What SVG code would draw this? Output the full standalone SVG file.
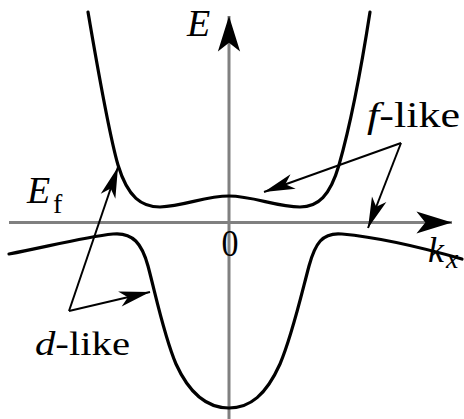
<svg xmlns="http://www.w3.org/2000/svg" width="464" height="419" viewBox="0 0 464 419">
<style>
.axis{stroke:#808080;stroke-width:3;fill:none}
.band{stroke:#000;stroke-width:3.2;fill:none;stroke-linecap:round}
.ptr{stroke:#000;stroke-width:2;fill:none}
.lbl{font-family:"Liberation Serif","Times New Roman",serif;fill:#000}
.it{font-style:italic}
</style>
<defs>
<marker id="axhead" markerUnits="userSpaceOnUse" markerWidth="40" markerHeight="30" refX="0" refY="0" viewBox="-34 -12 36 24" orient="auto">
<path d="M0,0 L-32,-10 L-24,0 L-32,10 Z" fill="#000"/>
</marker>
<marker id="ptrhead" markerUnits="userSpaceOnUse" markerWidth="34" markerHeight="20" refX="0" refY="0" viewBox="-32 -9 33 18" orient="auto">
<path d="M0,0 L-30,-7.5 L-22,0 L-30,7.5 Z" fill="#000"/>
</marker>
</defs>
<g id="axes">
<line class="axis" x1="9" y1="222.5" x2="452" y2="222.5" marker-end="url(#axhead)"/>
<line class="axis" x1="229" y1="419" x2="229" y2="16" marker-end="url(#axhead)"/>
</g>
<g id="upper-band">
<path class="band" d="M88,12 C98,70 108,130 118,165 C128,198 142,207 160,207 C185,206 205,196 229,196 C253,196 277,207 300,207 C318,207 330,196 339,165 C349,130 361,70 370,12"/>
</g>
<g id="lower-band">
<path class="band" d="M9,254 C50,246 85,237 113,234 C133,232 142,244 148,266 C156,296 164,336 176,364 C190,395 208,408 229,408 C250,408 266,395 280,364 C292,336 301,296 309,266 C315,244 322,232 342,234 C375,237 420,247 462,259"/>
</g>
<g id="connectors">
<line class="ptr" x1="401" y1="143" x2="264" y2="192" marker-end="url(#ptrhead)"/>
<line class="ptr" x1="401" y1="143" x2="368" y2="228" marker-end="url(#ptrhead)"/>
<line class="ptr" x1="69" y1="311" x2="118" y2="167" marker-end="url(#ptrhead)"/>
<line class="ptr" x1="69" y1="311" x2="150" y2="292" marker-end="url(#ptrhead)"/>
</g>
<g id="label-E">
<text class="lbl it" x="187" y="36" font-size="38">E</text>
</g>
<g id="label-Ef">
<text class="lbl it" x="27" y="203" font-size="38">E</text>
<text class="lbl" x="53" y="213" font-size="28">f</text>
</g>
<g id="label-zero">
<text class="lbl" x="230" y="256" font-size="38" text-anchor="middle" textLength="17" lengthAdjust="spacingAndGlyphs">0</text>
</g>
<g id="label-kx">
<text class="lbl it" x="428" y="262" font-size="36">k</text>
<text class="lbl it" x="446" y="268" font-size="28">x</text>
</g>
<g id="label-flike">
<text class="lbl" x="367" y="127" font-size="36" textLength="93" lengthAdjust="spacingAndGlyphs"><tspan class="it">f</tspan>-like</text>
</g>
<g id="label-dlike">
<text class="lbl" x="35" y="355" font-size="34" textLength="95" lengthAdjust="spacingAndGlyphs"><tspan class="it">d</tspan>-like</text>
</g>
</svg>
